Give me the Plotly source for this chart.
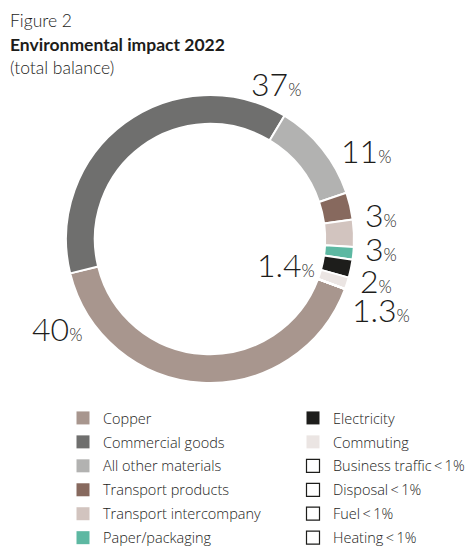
import plotly.graph_objects as go

W, H = 471, 554

# ---- data ----
categories = ["Copper", "Commercial goods", "All other materials", "Transport products",
              "Transport intercompany", "Paper/packaging", "Electricity", "Commuting",
              "Business traffic\u2009<\u20091%", "Disposal\u2009<\u20091%",
              "Fuel\u2009<\u20091%", "Heating\u2009<\u20091%"]
values = [40, 37, 11, 3, 3, 1.4, 2, 1.3, 0, 0, 0, 0]
colors = ["#a8968e", "#6f6f6e", "#b2b2b1", "#87695e", "#d2c4bf", "#5db8a2",
          "#1d1d1b", "#ebe5e3", "#ffffff", "#ffffff", "#ffffff", "#ffffff"]
pct_labels = ["40", "37", "11", "3", "3", "1.4", "2", "1.3"]
title_lines = ["Figure 2", "<b>Environmental impact 2022</b>", "(total balance)"]

FONT = "Lato"
LFONT = "Open Sans"
TXT = "#1d1d1b"

fig = go.Figure()

cx, cy, r = 210, 239, 144
fig.add_trace(go.Pie(
    labels=categories, values=values, sort=False, direction="clockwise",
    rotation=110.3, hole=0.80, textinfo="none", hoverinfo="label+value",
    marker=dict(colors=colors, line=dict(color="white", width=2)),
    domain=dict(x=[(cx - r) / W, (cx + r) / W], y=[(H - cy - r) / H, (H - cy + r) / H]),
    showlegend=False,
))

# legend entries via empty scatter traces (two columns)
for i, (name, col) in enumerate(zip(categories, colors)):
    outline = col == "#ffffff"
    fig.add_trace(go.Scatter(
        x=[None], y=[None], mode="markers", name=name,
        legend="legend" if i < 6 else "legend2", legendgroup=name,
        marker=dict(symbol="square", size=13, color=col,
                    line=dict(color=TXT if outline else col, width=1.2 if outline else 0)),
    ))

annotations = []
# title block
for line, top in zip(title_lines, [8, 31.5, 55]):
    annotations.append(dict(
        text=line, x=8 / W, y=1 - top / H, xref="paper", yref="paper",
        xanchor="left", yanchor="top", showarrow=False,
        font=dict(family=FONT, size=17.5, color=TXT, weight=300),
    ))

# percentage labels (left x, vertical centre of digits)
label_pos = [(30, 330), (249, 85.5), (339, 151.5), (363, 216.5), (363, 250),
             (255, 266), (358, 281.5), (350, 310.5)]
for txt, (lx, ly) in zip(pct_labels, label_pos):
    annotations.append(dict(
        text=f"{txt}<span style='font-size:17px'>%</span>",
        x=lx / W, y=1 - (ly - 1.5) / H, xref="paper", yref="paper",
        xanchor="left", yanchor="middle", showarrow=False,
        font=dict(family=FONT, size=32, color=TXT, weight=300),
    ))

leg_font = dict(family=LFONT, size=14.5, color=TXT, weight=300)
common_leg = dict(xanchor="left", yanchor="bottom", y=0, font=leg_font,
                  traceorder="grouped", tracegroupgap=2.1, bgcolor="rgba(0,0,0,0)")
fig.update_layout(
    width=W, height=H,
    margin=dict(l=0, r=0, t=0, b=0),
    paper_bgcolor="white", plot_bgcolor="white",
    xaxis=dict(visible=False), yaxis=dict(visible=False),
    legend=dict(x=63 / W, **common_leg),
    legend2=dict(x=293 / W, **common_leg),
    annotations=annotations,
)

fig.write_html("out.html")
